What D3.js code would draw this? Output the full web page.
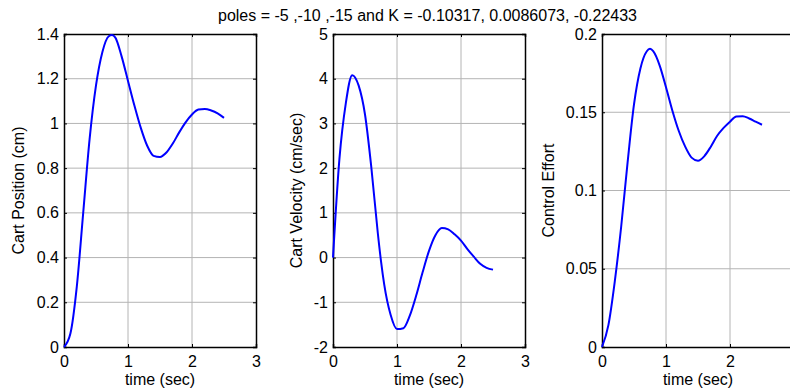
<!DOCTYPE html>
<html>
<head>
<meta charset="utf-8">
<script src="https://cdn.jsdelivr.net/npm/d3@7"></script>
<style>
  html, body { margin: 0; padding: 0; background: #fff; }
  svg { display: block; font-family: Arial, "Liberation Sans", sans-serif; }
</style>
</head>
<body>
<svg id="chart" width="790" height="392"></svg>
<script>
// Closed-loop step response of the cart with state feedback
const titleText = "poles = -5 ,-10 ,-15 and K = -0.10317, 0.0086073, -0.22433";

const time = [0, 0.1, 0.2, 0.3, 0.4, 0.5, 0.6, 0.7, 0.75, 0.8, 0.9, 1.0, 1.1, 1.2, 1.3, 1.4, 1.5, 1.6, 1.7, 1.8, 1.9, 2.0, 2.1, 2.2, 2.3, 2.4, 2.5];

const cartPosition = [0, 0.06, 0.27, 0.60, 0.93, 1.17, 1.32, 1.39, 1.395, 1.385, 1.30, 1.19, 1.08, 0.98, 0.90, 0.855, 0.85, 0.87, 0.91, 0.96, 1.005, 1.04, 1.062, 1.065, 1.058, 1.045, 1.025];
const cartVelocity = [0, 2.2, 3.45, 4.08, 3.85, 3.2, 2.0, 0.55, -0.08, -0.6, -1.28, -1.6, -1.58, -1.3, -0.85, -0.33, 0.15, 0.5, 0.66, 0.63, 0.52, 0.38, 0.19, 0.02, -0.14, -0.23, -0.27];
const controlEffort = [0, 0.014, 0.042, 0.077, 0.118, 0.155, 0.178, 0.189, 0.1905, 0.189, 0.18, 0.166, 0.151, 0.138, 0.128, 0.121, 0.119, 0.122, 0.128, 0.135, 0.14, 0.144, 0.1473, 0.1475, 0.146, 0.144, 0.142];

const xTicks = [0, 1, 2, 3];
const posTicks = [0, 0.2, 0.4, 0.6, 0.8, 1, 1.2, 1.4];
const velTicks = [-2, -1, 0, 1, 2, 3, 4, 5];
const effTicks = [0, 0.05, 0.1, 0.15, 0.2];

const panels = [
  { left: 64,  values: cartPosition,  domain: [0, 1.4], ticks: posTicks, label: "Cart Position (cm)",     labelX: 18 },
  { left: 333, values: cartVelocity,  domain: [-2, 5],  ticks: velTicks, label: "Cart Velocity (cm/sec)", labelX: 296 },
  { left: 602, values: controlEffort, domain: [0, 0.2], ticks: effTicks, label: "Control Effort",         labelX: 548 }
];

const width = 790;
const panelWidth = 192;
const plotTop = 34, plotBottom = 347;
const fontSize = 16;
const fontFamily = "Arial, 'Liberation Sans', sans-serif";

const svg = d3.select("#chart");

svg.append("text")
  .attr("x", 427.5).attr("y", 21)
  .attr("text-anchor", "middle")
  .attr("font-size", fontSize)
  .attr("fill", "#000")
  .text(titleText);

panels.forEach(p => {
  const x = d3.scaleLinear().domain([0, 3]).range([p.left, p.left + panelWidth]);
  const y = d3.scaleLinear().domain(p.domain).range([plotBottom, plotTop]);
  const g = svg.append("g");

  // grid
  g.selectAll(".gx").data(xTicks.slice(1, -1)).join("line")
    .attr("x1", d => x(d)).attr("x2", d => x(d))
    .attr("y1", plotTop).attr("y2", plotBottom)
    .attr("stroke", "#b4b4b4").attr("stroke-width", 1);
  g.selectAll(".gy").data(p.ticks.slice(1, -1)).join("line")
    .attr("x1", p.left).attr("x2", p.left + panelWidth)
    .attr("y1", d => y(d)).attr("y2", d => y(d))
    .attr("stroke", "#b4b4b4").attr("stroke-width", 1);

  // axes with inward ticks; tick labels that would fall past the page edge are skipped
  const axB = d3.axisBottom(x).tickValues(xTicks).tickSize(-3).tickPadding(9)
    .tickFormat(d => x(d) + 6 > width ? "" : d3.format("d")(d));
  const axT = d3.axisTop(x).tickValues(xTicks).tickSize(-3).tickFormat("");
  const axL = d3.axisLeft(y).tickValues(p.ticks).tickSize(-3).tickPadding(5).tickFormat(d => String(+d.toFixed(2)));
  const axR = d3.axisRight(y).tickValues(p.ticks).tickSize(-3).tickFormat("");

  [[axB, `translate(0,${plotBottom})`], [axT, `translate(0,${plotTop})`],
   [axL, `translate(${p.left},0)`], [axR, `translate(${p.left + panelWidth},0)`]].forEach(([ax, tr]) => {
    const a = g.append("g").attr("transform", tr).call(ax);
    a.select(".domain").attr("stroke", "#000").attr("stroke-width", 1.5);
    a.selectAll(".tick line").attr("stroke", "#000").attr("stroke-width", 1);
    a.selectAll("text").attr("font-size", fontSize).attr("fill", "#000")
      .attr("font-family", fontFamily);
  });

  // response curve
  const line = d3.line()
    .x((d, i) => x(time[i]))
    .y(d => y(d))
    .curve(d3.curveMonotoneX);
  g.append("path")
    .datum(p.values)
    .attr("d", line)
    .attr("fill", "none")
    .attr("stroke", "#0000ff")
    .attr("stroke-width", 2);

  // labels
  g.append("text")
    .attr("x", x(1.5)).attr("y", 385)
    .attr("text-anchor", "middle")
    .attr("font-size", fontSize)
    .text("time (sec)");
  g.append("text")
    .attr("transform", `translate(${p.labelX},${(plotTop + plotBottom) / 2}) rotate(-90)`)
    .attr("text-anchor", "middle")
    .attr("dy", "0.35em")
    .attr("font-size", fontSize)
    .text(p.label);
});
</script>
</body>
</html>
